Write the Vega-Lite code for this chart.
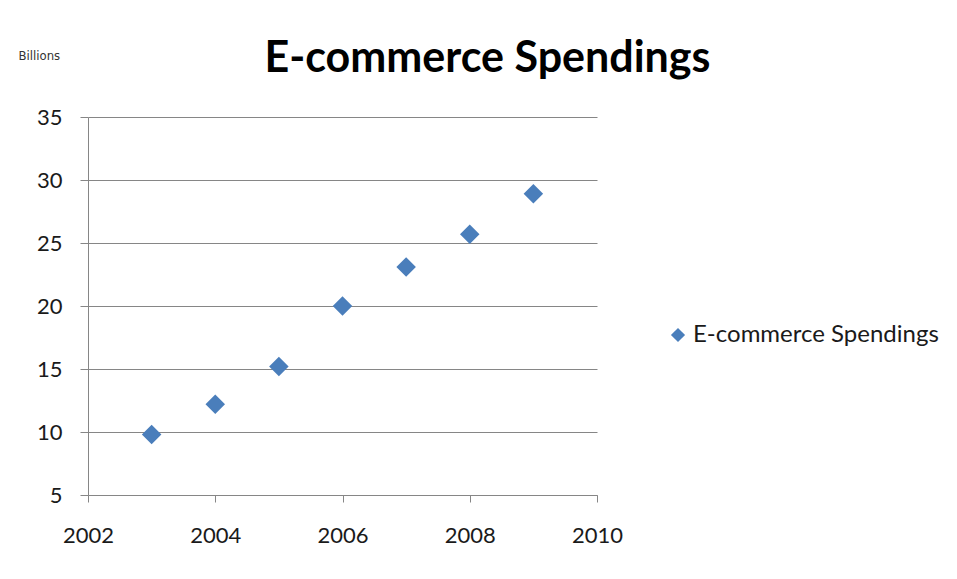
{
  "$schema": "https://vega.github.io/schema/vega-lite/v6.json",
  "width": 509,
  "height": 378,
  "autosize": {"type": "none"},
  "padding": {"left": 88, "top": 117, "right": 360, "bottom": 84},
  "background": "white",
  "config": {
    "font": "Lato",
    "view": {"stroke": null}
  },
  "title": {
    "text": "E-commerce Spendings",
    "font": "Lato",
    "fontSize": 43,
    "fontWeight": "bold",
    "color": "#000000",
    "anchor": "middle",
    "dx": 145,
    "offset": -32
  },
  "data": {
    "values": [
      {"year": 2003, "spending": 9.8},
      {"year": 2004, "spending": 12.2},
      {"year": 2005, "spending": 15.2},
      {"year": 2006, "spending": 20.0},
      {"year": 2007, "spending": 23.1},
      {"year": 2008, "spending": 25.7},
      {"year": 2009, "spending": 28.9}
    ]
  },
  "mark": {"type": "point", "shape": "diamond", "filled": true, "opacity": 1, "size": 380},
  "encoding": {
    "x": {
      "field": "year",
      "type": "quantitative",
      "scale": {"domain": [2002, 2010], "nice": false, "zero": false},
      "axis": {
        "values": [2002, 2004, 2006, 2008, 2010],
        "format": "d",
        "title": null,
        "grid": false,
        "labelFlush": false,
        "domainColor": "#868686",
        "tickColor": "#868686",
        "tickSize": 7,
        "labelFontSize": 22,
        "labelColor": "#1a1a1a",
        "labelPadding": 23
      }
    },
    "y": {
      "field": "spending",
      "type": "quantitative",
      "scale": {"domain": [5, 35], "nice": false, "zero": false},
      "axis": {
        "values": [5, 10, 15, 20, 25, 30, 35],
        "title": "Billions",
        "titleAngle": 0,
        "titleAlign": "left",
        "titleBaseline": "middle",
        "titleX": -70,
        "titleY": -62,
        "titleFontSize": 13,
        "titleFontWeight": "normal",
        "titleColor": "#333333",
        "titleFont": "DejaVu Sans Condensed",
        "grid": true,
        "gridColor": "#868686",
        "gridWidth": 1,
        "labelFlush": false,
        "domainColor": "#868686",
        "tickColor": "#868686",
        "tickSize": 8,
        "labelFontSize": 22,
        "labelColor": "#1a1a1a",
        "labelPadding": 18
      }
    },
    "color": {
      "datum": "E-commerce Spendings",
      "type": "nominal",
      "scale": {"range": ["#4A7EBB"]},
      "legend": {
        "title": null,
        "orient": "none",
        "legendX": 578,
        "legendY": 206,
        "symbolType": "diamond",
        "symbolSize": 200,
        "labelFontSize": 24,
        "labelLimit": 0,
        "labelColor": "#1a1a1a",
        "labelOffset": 3
      }
    }
  }
}
